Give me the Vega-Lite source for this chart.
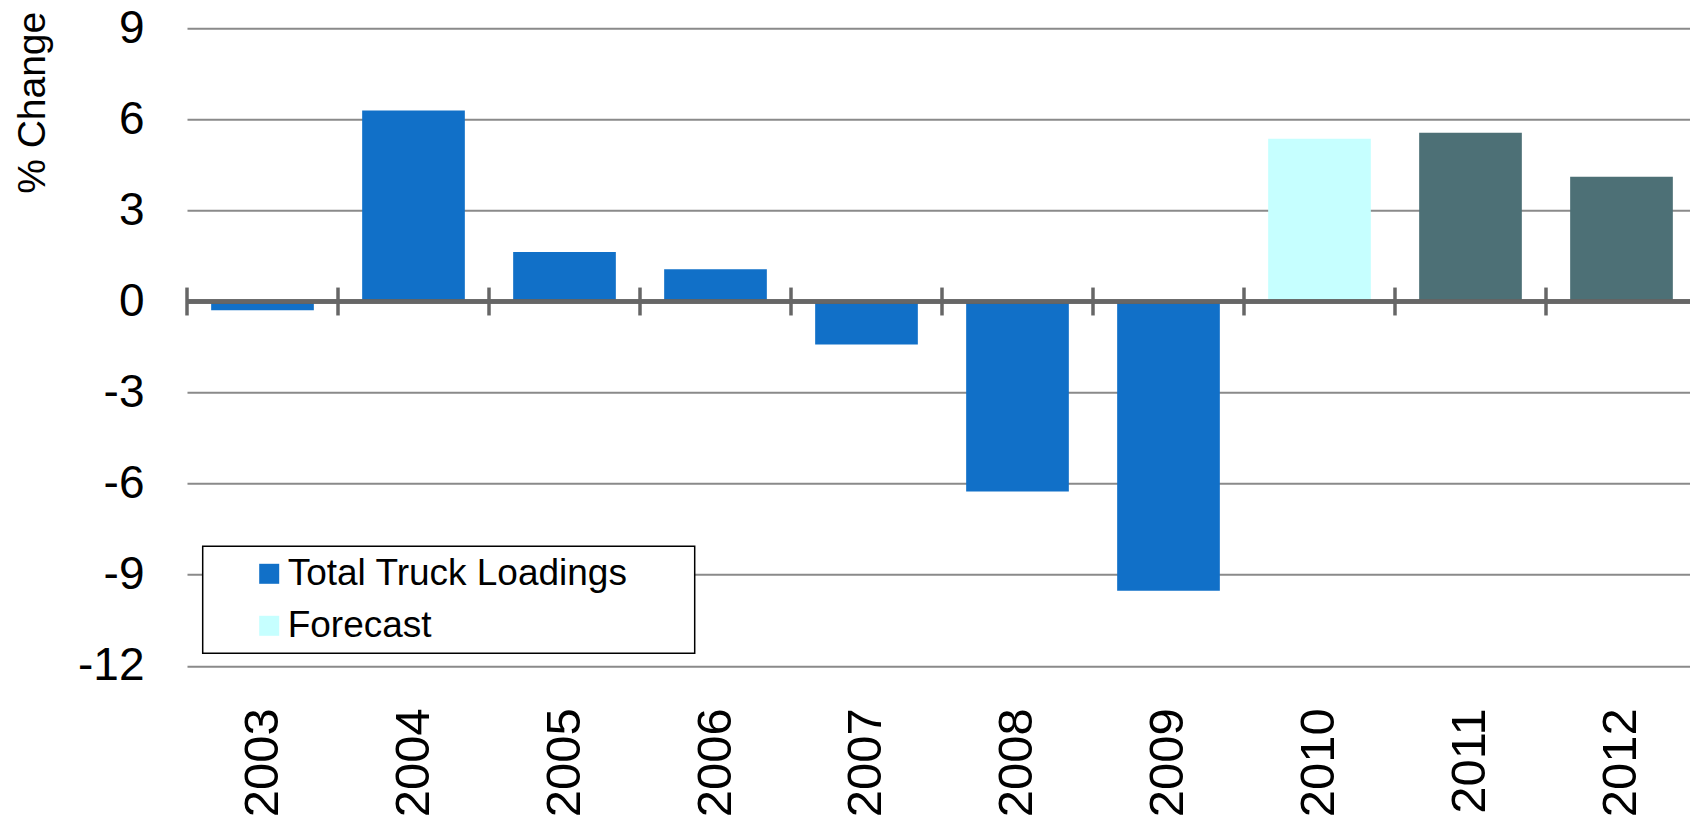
{
  "$schema": "https://vega.github.io/schema/vega-lite/v6.json",
  "width": 1510,
  "height": 637.5,
  "autosize": {"type": "none"},
  "padding": {"left": 187, "top": 28.3, "right": -7, "bottom": 151},
  "background": "white",
  "config": {"font": "Liberation Sans", "view": {"stroke": null}},
  "data": {
    "values": [
      {"year": "2003", "value": -0.29, "series": "Total Truck Loadings"},
      {"year": "2004", "value": 6.29, "series": "Total Truck Loadings"},
      {"year": "2005", "value": 1.63, "series": "Total Truck Loadings"},
      {"year": "2006", "value": 1.06, "series": "Total Truck Loadings"},
      {"year": "2007", "value": -1.42, "series": "Total Truck Loadings"},
      {"year": "2008", "value": -6.26, "series": "Total Truck Loadings"},
      {"year": "2009", "value": -9.53, "series": "Total Truck Loadings"},
      {"year": "2010", "value": 5.36, "series": "Forecast"},
      {"year": "2011", "value": 5.56, "series": "Projection"},
      {"year": "2012", "value": 4.11, "series": "Projection"}
    ]
  },
  "layer": [
    {
      "mark": {"type": "bar"},
      "encoding": {
        "x": {
          "field": "year", "type": "ordinal",
          "scale": {"paddingInner": 0.32, "paddingOuter": 0.16},
          "axis": {"orient": "bottom", "title": null, "labelAngle": -90, "labelAlign": "right", "labelBaseline": "middle", "labelFontSize": 49, "labelColor": "black", "labelPadding": 42, "ticks": false, "domain": false, "grid": false}
        },
        "y": {
          "field": "value", "type": "quantitative",
          "scale": {"domain": [-12, 9], "nice": false, "zero": false},
          "axis": {
            "values": [-12, -9, -6, -3, 0, 3, 6, 9],
            "labelExpr": "toString(datum.value)",
            "title": "% Change", "titleFontSize": 39, "titleFontWeight": "normal", "titleColor": "black",
            "titleAngle": -90, "titleAlign": "right", "titleBaseline": "middle", "titleX": -155, "titleY": -17,
            "labelFontSize": 46, "labelColor": "black", "labelPadding": 43, "ticks": false, "domain": false,
            "grid": true, "gridColor": "#8a8a8a", "gridWidth": 2
          }
        },
        "color": {
          "field": "series", "type": "nominal",
          "scale": {"domain": ["Total Truck Loadings", "Forecast", "Projection"], "range": ["#1170C8", "#C6FFFF", "#4D7076"]},
          "legend": {
            "values": ["Total Truck Loadings", "Forecast"],
            "orient": "none", "legendX": 15.7, "legendY": 518,
            "title": ".", "titleOrient": "right", "titleOpacity": 0, "titleFontSize": 10, "titlePadding": 55,
            "symbolType": "square", "symbolSize": 400, "symbolStrokeWidth": 0, "symbolOpacity": 1,
            "labelFontSize": 37, "labelColor": "black", "labelOffset": 0, "labelLimit": 1000,
            "strokeColor": "black", "fillColor": "white",
            "padding": 9, "rowPadding": 14, "symbolOffset": 39,
            "encode": {"legend": {"update": {"strokeWidth": {"value": 1.5}}}}
          }
        }
      }
    },
    {
      "mark": {"type": "rule", "color": "#666666", "strokeWidth": 3.5},
      "encoding": {"y": {"datum": 0}}
    },
    {
      "mark": {"type": "rule", "color": "#666666", "strokeWidth": 3.5},
      "encoding": {
        "x": {"field": "year", "type": "ordinal", "bandPosition": 0, "scale": {"paddingInner": 0, "paddingOuter": 0}, "axis": null},
        "y": {"datum": -0.46},
        "y2": {"datum": 0.46}
      }
    }
  ],
  "resolve": {"scale": {"x": "independent"}}
}
